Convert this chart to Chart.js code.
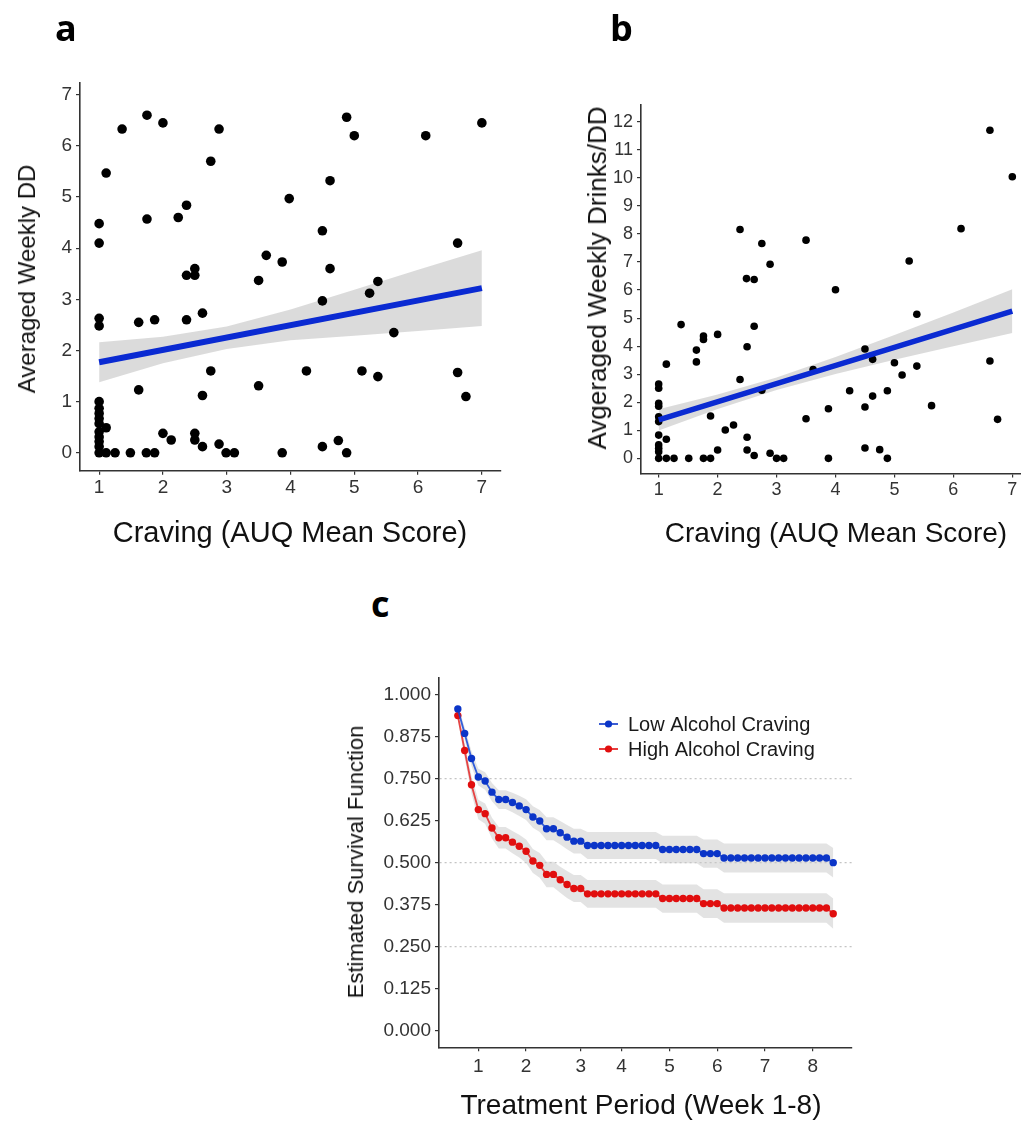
<!DOCTYPE html>
<html>
<head>
<meta charset="utf-8">
<script src="https://cdn.jsdelivr.net/npm/chart.js@4.4.0/dist/chart.umd.min.js"></script>
<style>
  html, body { margin: 0; padding: 0; background: #fff; overflow: hidden; width: 1021px; height: 1121px; }
  .box { position: absolute; }
  .lbl { position: absolute; font-family: "Liberation Sans", Arial, sans-serif; color: #111; white-space: nowrap; line-height: 1; }
  .xlab { transform: translate(-50%, 0); }
  .ylab { transform: translate(-50%, -50%) rotate(-90deg); }
  .tag { position: absolute; font-family: "Open Sans", sans-serif; font-weight: 700; font-size: 36px; line-height: 1; color: #000; }
</style>
</head>
<body>
<div class="box" style="left:0;top:0;width:510px;height:560px"><canvas id="chartA"></canvas></div>
<div class="box" style="left:560px;top:0;width:480px;height:560px"><canvas id="chartB"></canvas></div>
<div class="box" style="left:360px;top:640px;width:500px;height:481px"><canvas id="chartC"></canvas></div>

<div class="tag" style="left:55px;top:10px">a</div>
<div class="tag" style="left:610px;top:10px">b</div>
<div class="tag" style="left:371px;top:586px">c</div>

<div class="lbl ylab" style="left:27px;top:279px;font-size:24px">Averaged Weekly DD</div>
<div class="lbl xlab" style="left:290px;top:518px;font-size:29px">Craving (AUQ Mean Score)</div>
<div class="lbl ylab" style="left:597px;top:278px;font-size:26px">Avgeraged Weekly Drinks/DD</div>
<div class="lbl xlab" style="left:836px;top:519px;font-size:28px">Craving (AUQ Mean Score)</div>
<div class="lbl ylab" style="left:356px;top:862px;font-size:22px">Estimated Survival Function</div>
<div class="lbl xlab" style="left:641px;top:1091px;font-size:28px">Treatment Period (Week 1-8)</div>

<script>
// panel a: craving vs averaged weekly DD
const aX = [1.75, 2.0, 1.36, 2.88, 1.11, 2.75, 3.98, 1.0, 1.0, 1.75, 2.24, 2.37, 2.5, 2.5, 2.37, 3.62, 3.87, 3.5, 1.0, 1.0,
  1.62, 1.87, 2.37, 2.62, 2.75, 1.62, 2.62, 3.5, 1.0, 1.0, 1.0, 1.0, 1.0, 1.0, 1.0, 1.0, 1.0, 1.0,
  1.11, 2.0, 2.13, 2.5, 2.5, 2.62, 2.88, 1.11, 1.25, 1.49, 1.74, 1.87, 2.99, 3.12, 3.87,
  4.88, 5.0, 6.12, 7.0, 4.62, 4.5, 6.62, 4.62, 4.5, 5.37, 5.24, 5.62, 4.25, 5.12, 5.37, 6.62, 6.75, 4.5, 4.75, 4.88];
const aY = [6.6, 6.45, 6.33, 6.33, 5.47, 5.7, 4.97, 4.48, 4.1, 4.57, 4.6, 4.84, 3.6, 3.47, 3.47, 3.86, 3.73, 3.37, 2.63, 2.48,
  2.55, 2.6, 2.6, 2.73, 1.6, 1.23, 1.12, 1.31, 1.0, 0.87, 0.77, 0.67, 0.57, 0.41, 0.31, 0.22, 0.12, 0,
  0.49, 0.38, 0.25, 0.38, 0.25, 0.12, 0.17, 0, 0, 0, 0, 0, 0, 0, 0,
  6.56, 6.2, 6.2, 6.45, 5.32, 4.34, 4.1, 3.6, 2.97, 3.35, 3.12, 2.35, 1.6, 1.6, 1.49, 1.57, 1.1, 0.12, 0.24, 0];
const aFitX = [1, 7];
const aFitY = [1.77, 3.22];
const bandX = [1, 2, 3, 4, 5, 6, 7];
const aUpper = [2.16, 2.27, 2.47, 2.80, 3.19, 3.58, 3.96];
const aLower = [1.38, 1.75, 2.03, 2.20, 2.29, 2.38, 2.48];
const aYTicks = [0, 1, 2, 3, 4, 5, 6, 7];

// panel b: craving vs averaged weekly drinks/DD
const bX = [2.38, 2.75, 2.89, 2.49, 2.62, 2.62, 1.38, 2.0, 1.76, 1.76, 1.64, 1.64, 2.5, 1.13, 2.38, 2.75,
  1, 1, 1, 1, 1, 1, 1, 1, 1, 1, 1, 1.13, 1.88, 2.13, 2.27, 2.5, 2.0, 2.5, 2.62, 2.89,
  1.13, 1.26, 1.51, 1.76, 1.88, 3.0, 3.12,
  6.62, 7.0, 6.13, 3.5, 5.25, 4.0, 5.38, 4.5, 4.63, 3.62, 5.0, 5.38, 5.13, 6.62, 4.24, 4.88, 4.63, 3.88, 4.5, 5.63,
  3.5, 6.75, 4.5, 4.75, 4.88, 3.88];
const bY = [8.16, 7.66, 6.92, 6.41, 6.38, 4.71, 4.77, 4.42, 4.36, 4.24, 3.86, 3.44, 3.98, 3.36, 2.81, 2.43,
  2.65, 2.5, 1.96, 1.86, 1.48, 1.31, 0.83, 0.48, 0.36, 0.24, 0, 0.68, 1.51, 1.01, 1.19, 0.75, 0.3, 0.3, 0.1, 0.18,
  0, 0, 0, 0, 0, 0, 0,
  11.7, 10.04, 8.19, 7.78, 7.04, 6.01, 5.14, 3.9, 3.53, 3.17, 3.41, 3.29, 2.97, 3.47, 2.41, 2.41, 2.22, 1.77, 1.83, 1.88,
  1.41, 1.39, 0.37, 0.31, 0, 0];
const bFitX = [1, 7];
const bFitY = [1.37, 5.25];
const bUpper = [1.75, 2.28, 2.88, 3.61, 4.40, 5.20, 6.03];
const bLower = [0.99, 1.76, 2.44, 3.01, 3.52, 4.00, 4.47];
const bYTicks = [0, 1, 2, 3, 4, 5, 6, 7, 8, 9, 10, 11, 12];

const cravingTicks = [1, 2, 3, 4, 5, 6, 7];

// panel c: survival curves, one point per treatment day
const cDays = [4, 5, 6, 7, 8, 9, 10, 11, 12, 13, 14, 15, 16, 17, 18, 19, 20, 21, 22, 23, 24, 25, 26, 27, 28, 29, 30, 31,
  32, 33, 34, 35, 36, 37, 38, 39, 40, 41, 42, 43, 44, 45, 46, 47, 48, 49, 50, 51, 52, 53, 54, 55, 56, 57, 58, 59];
const lowCraving = [0.958, 0.885, 0.810, 0.755, 0.743, 0.710, 0.688, 0.688, 0.679, 0.669, 0.658, 0.636, 0.624, 0.601,
  0.601, 0.589, 0.576, 0.564, 0.564, 0.551, 0.551, 0.551, 0.551, 0.551, 0.551, 0.551, 0.551, 0.551, 0.551, 0.551,
  0.539, 0.539, 0.539, 0.539, 0.539, 0.539, 0.527, 0.527, 0.527, 0.514, 0.514, 0.514, 0.514, 0.514, 0.514, 0.514,
  0.514, 0.514, 0.514, 0.514, 0.514, 0.514, 0.514, 0.514, 0.514, 0.500];
const highCraving = [0.938, 0.834, 0.732, 0.658, 0.646, 0.603, 0.574, 0.574, 0.561, 0.549, 0.534, 0.505, 0.492, 0.465,
  0.465, 0.449, 0.435, 0.423, 0.423, 0.407, 0.407, 0.407, 0.407, 0.407, 0.407, 0.407, 0.407, 0.407, 0.407, 0.407,
  0.393, 0.393, 0.393, 0.393, 0.393, 0.393, 0.378, 0.378, 0.378, 0.365, 0.365, 0.365, 0.365, 0.365, 0.365, 0.365,
  0.365, 0.365, 0.365, 0.365, 0.365, 0.365, 0.365, 0.365, 0.365, 0.348];
const lowCI = [0.012, 0.018, 0.022, 0.025, 0.026, 0.027, 0.028, 0.028, 0.029, 0.030, 0.031, 0.032, 0.033, 0.034,
  0.034, 0.035, 0.036, 0.037, 0.037, 0.040, 0.040, 0.040, 0.040, 0.040, 0.040, 0.040, 0.040, 0.040, 0.040, 0.040,
  0.041, 0.041, 0.041, 0.041, 0.041, 0.041, 0.042, 0.042, 0.042, 0.043, 0.043, 0.043, 0.043, 0.043, 0.043, 0.043,
  0.043, 0.043, 0.043, 0.043, 0.043, 0.043, 0.043, 0.043, 0.043, 0.044];
const highCI = [0.014, 0.022, 0.026, 0.029, 0.030, 0.031, 0.032, 0.032, 0.033, 0.034, 0.035, 0.036, 0.037, 0.038,
  0.038, 0.039, 0.040, 0.040, 0.040, 0.041, 0.041, 0.041, 0.041, 0.041, 0.041, 0.041, 0.041, 0.041, 0.041, 0.041,
  0.042, 0.042, 0.042, 0.042, 0.042, 0.042, 0.043, 0.043, 0.043, 0.044, 0.044, 0.044, 0.044, 0.044, 0.044, 0.044,
  0.044, 0.044, 0.044, 0.044, 0.044, 0.044, 0.044, 0.044, 0.044, 0.045];
const weekTickDays = [7, 14, 22, 28, 35, 42, 49, 56];
const weekLabels = ['1', '2', '3', '4', '5', '6', '7', '8'];
const survTicks = [0, 0.125, 0.25, 0.375, 0.5, 0.625, 0.75, 0.875, 1];
const survGrid = [0.25, 0.5, 0.75];
const seriesNames = ['Low Alcohol Craving', 'High Alcohol Craving'];

const AXIS = '#333';
const TICK_TXT = '#333';
const FIT_BLUE = '#0a2ad2';
const BAND = 'rgba(190,190,190,0.55)';
const LOW_COL = '#0b35c8';
const HIGH_COL = '#e10e0e';
const FONT = '"Liberation Sans", Arial, sans-serif';

Chart.defaults.font.family = FONT;
Chart.defaults.animation = false;

const pts = (xs, ys) => xs.map((x, i) => ({ x, y: ys[i] }));

function axisOpts(min, max, tickVals, fontSize, fitSize, isY, fmt) {
  return {
    type: 'linear',
    min,
    max,
    afterBuildTicks: (s) => { s.ticks = tickVals.map((v) => ({ value: v })); },
    afterFit: (s) => { if (isY) s.width = fitSize; else s.height = fitSize; },
    grid: { display: true, drawOnChartArea: false, drawTicks: true, tickLength: 4, color: AXIS, tickColor: AXIS, lineWidth: 1.2 },
    border: { display: true, color: AXIS, width: 1.6 },
    ticks: {
      autoSkip: false,
      maxRotation: 0,
      padding: isY ? 4 : 2,
      color: TICK_TXT,
      font: { size: fontSize },
      callback: fmt || ((v) => String(v)),
    },
  };
}

function scatterChart(id, xs, ys, fitX, fitY, upper, lower, radius, fitWidth, cfg) {
  new Chart(document.getElementById(id), {
    type: 'scatter',
    data: {
      datasets: [
        { data: pts(xs, ys), backgroundColor: '#000', borderWidth: 0, pointRadius: radius, order: 1 },
        { data: pts(fitX, fitY), showLine: true, borderColor: FIT_BLUE, borderWidth: fitWidth, pointRadius: 0, order: 0 },
        { data: pts(bandX, upper), showLine: true, borderWidth: 0, pointRadius: 0, backgroundColor: BAND, fill: '+1', order: 2 },
        { data: pts(bandX, lower), showLine: true, borderWidth: 0, pointRadius: 0, order: 3 },
      ],
    },
    options: {
      responsive: true,
      maintainAspectRatio: false,
      devicePixelRatio: 1,
      layout: { padding: cfg.padding },
      plugins: { legend: { display: false }, tooltip: { enabled: false } },
      scales: {
        x: axisOpts(0.7, 7.3, cravingTicks, cfg.font, cfg.xFit, false),
        y: axisOpts(cfg.yMin, cfg.yMax, cfg.yTicks, cfg.font, cfg.yFit, true),
      },
    },
  });
}

scatterChart('chartA', aX, aY, aFitX, aFitY, aUpper, aLower, 4.8, 6,
  { padding: { left: 0, top: 83, right: 9, bottom: 0 }, font: 19, xFit: 89.3, yFit: 80, yMin: -0.35, yMax: 7.23, yTicks: aYTicks });
scatterChart('chartB', bX, bY, bFitX, bFitY, bUpper, bLower, 3.8, 5.5,
  { padding: { left: 0, top: 105, right: 10, bottom: 0 }, font: 18, xFit: 86.5, yFit: 81, yMin: -0.54, yMax: 12.6, yTicks: bYTicks });

// legend drawn inside the plot area of panel c
const survLegend = {
  id: 'survLegend',
  afterDraw(chart) {
    const { ctx, chartArea } = chart;
    const cols = [LOW_COL, HIGH_COL];
    const x0 = chartArea.left + 160;
    const y0 = chartArea.top + 46;
    ctx.save();
    seriesNames.forEach((name, i) => {
      const y = y0 + i * 25;
      ctx.strokeStyle = cols[i];
      ctx.lineWidth = 1.6;
      ctx.beginPath();
      ctx.moveTo(x0, y);
      ctx.lineTo(x0 + 19, y);
      ctx.stroke();
      ctx.fillStyle = cols[i];
      ctx.beginPath();
      ctx.arc(x0 + 9.5, y, 3.6, 0, Math.PI * 2);
      ctx.fill();
      ctx.fillStyle = '#1a1a1a';
      ctx.font = '20px ' + FONT;
      ctx.textBaseline = 'middle';
      ctx.fillText(name, x0 + 29, y + 1);
    });
    ctx.restore();
  },
};

const survY = axisOpts(-0.05, 1.05, survTicks, 19, 79, true, (v) => v.toFixed(3));
survY.grid = {
  display: true,
  drawOnChartArea: true,
  drawTicks: true,
  tickLength: 4,
  lineWidth: 1.2,
  tickColor: AXIS,
  color: (c) => (c.tick && survGrid.includes(c.tick.value) ? '#c4c4c4' : 'rgba(0,0,0,0)'),
};
survY.border = { display: true, color: AXIS, width: 1.6, dash: [2, 3] };
survY.ticks.padding = 4;
const survX = axisOpts(1.24, 61.75, weekTickDays, 19, 73.7, false, (v) => weekLabels[weekTickDays.indexOf(v)]);
survX.ticks.padding = 4;

new Chart(document.getElementById('chartC'), {
  type: 'scatter',
  data: {
    datasets: [
      { label: seriesNames[0], data: pts(cDays, lowCraving), showLine: true, borderColor: 'rgba(20,70,215,0.85)', borderWidth: 1.8,
        backgroundColor: LOW_COL, pointRadius: 3.7, pointBorderWidth: 0, order: 0 },
      { label: seriesNames[1], data: pts(cDays, highCraving), showLine: true, borderColor: 'rgba(230,40,40,0.85)', borderWidth: 1.8,
        backgroundColor: HIGH_COL, pointRadius: 3.7, pointBorderWidth: 0, order: 1 },
      { data: cDays.map((d, i) => ({ x: d, y: lowCraving[i] + lowCI[i] })), showLine: true, borderWidth: 0, pointRadius: 0,
        backgroundColor: 'rgba(200,200,200,0.5)', fill: '+1', order: 2 },
      { data: cDays.map((d, i) => ({ x: d, y: lowCraving[i] - lowCI[i] })), showLine: true, borderWidth: 0, pointRadius: 0, order: 3 },
      { data: cDays.map((d, i) => ({ x: d, y: highCraving[i] + highCI[i] })), showLine: true, borderWidth: 0, pointRadius: 0,
        backgroundColor: 'rgba(200,200,200,0.5)', fill: '+1', order: 4 },
      { data: cDays.map((d, i) => ({ x: d, y: highCraving[i] - highCI[i] })), showLine: true, borderWidth: 0, pointRadius: 0, order: 5 },
    ],
  },
  options: {
    responsive: true,
    maintainAspectRatio: false,
    devicePixelRatio: 1,
    layout: { padding: { left: 0, top: 38, right: 8, bottom: 0 } },
    plugins: { legend: { display: false }, tooltip: { enabled: false } },
    scales: { x: survX, y: survY },
  },
  plugins: [survLegend],
});
</script>
</body>
</html>
